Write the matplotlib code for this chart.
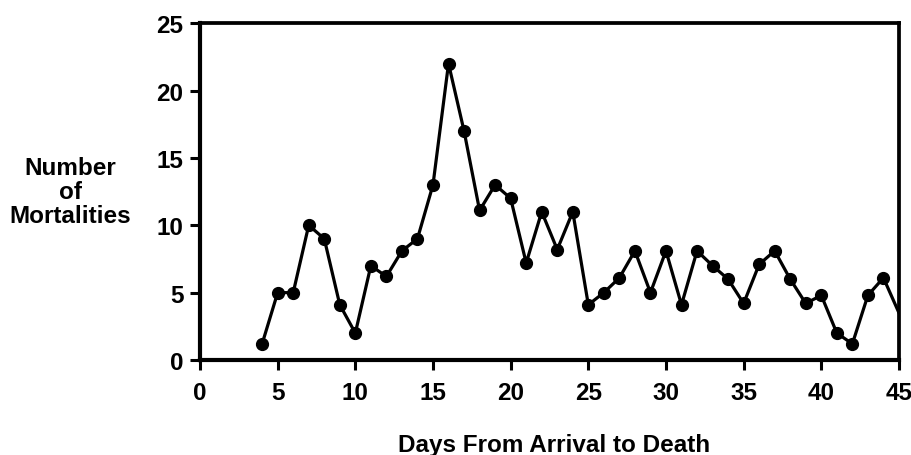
import matplotlib
matplotlib.use("Agg")
import matplotlib.pyplot as plt

# days after arrival and mortality counts
days = [4, 5, 6, 7, 8, 9, 10, 11, 12, 13, 14, 15, 16, 17, 18, 19, 20, 21, 22, 23, 24,
        25, 26, 27, 28, 29, 30, 31, 32, 33, 34, 35, 36, 37, 38, 39, 40, 41, 42, 43, 44, 46]
deaths = [1.2, 5, 5, 10, 9, 4.1, 2, 7, 6.2, 8.1, 9, 13, 22, 17, 11.1, 13, 12, 7.2, 11, 8.2, 11,
          4.1, 5, 6.1, 8.1, 5, 8.1, 4.1, 8.1, 7, 6, 4.2, 7.1, 8.1, 6, 4.2, 4.8, 2, 1.2, 4.8, 6.1, 0.9]

x_ticks = [0, 5, 10, 15, 20, 25, 30, 35, 40, 45]
y_ticks = [0, 5, 10, 15, 20, 25]

plt.rcParams['font.family'] = ['Liberation Sans', 'DejaVu Sans']
plt.rcParams['font.weight'] = 'bold'

fig = plt.figure(figsize=(9.12, 4.56), dpi=100)
ax = fig.add_axes([0.2193, 0.2083, 0.7664, 0.7387])

ax.plot(days, deaths, color='black', lw=2.3, marker='o', ms=8.5, clip_on=True)

ax.set_xlim(0, 45)
ax.set_ylim(0, 25)
ax.set_xticks(x_ticks)
ax.set_yticks(y_ticks)
ax.tick_params(direction='out', length=7, width=2.2, labelsize=17.5)
ax.tick_params(axis='x', pad=8)
ax.tick_params(axis='y', pad=5)
for lab in ax.get_xticklabels() + ax.get_yticklabels():
    lab.set_fontweight('bold')

for side in ['left', 'bottom']:
    ax.spines[side].set_linewidth(3)
for side in ['top', 'right']:
    ax.spines[side].set_linewidth(2.7)

# axis titles placed as figure text to sit where the original has them
fig.text(0.608, 0.008, 'Days From Arrival to Death', ha='center', va='baseline',
         fontsize=17.5, fontweight='bold')
fig.text(0.077, 0.578, 'Number\nof\nMortalities', ha='center', va='center',
         fontsize=17.5, fontweight='bold', linespacing=1.05)

fig.savefig('out.png', dpi=100)
